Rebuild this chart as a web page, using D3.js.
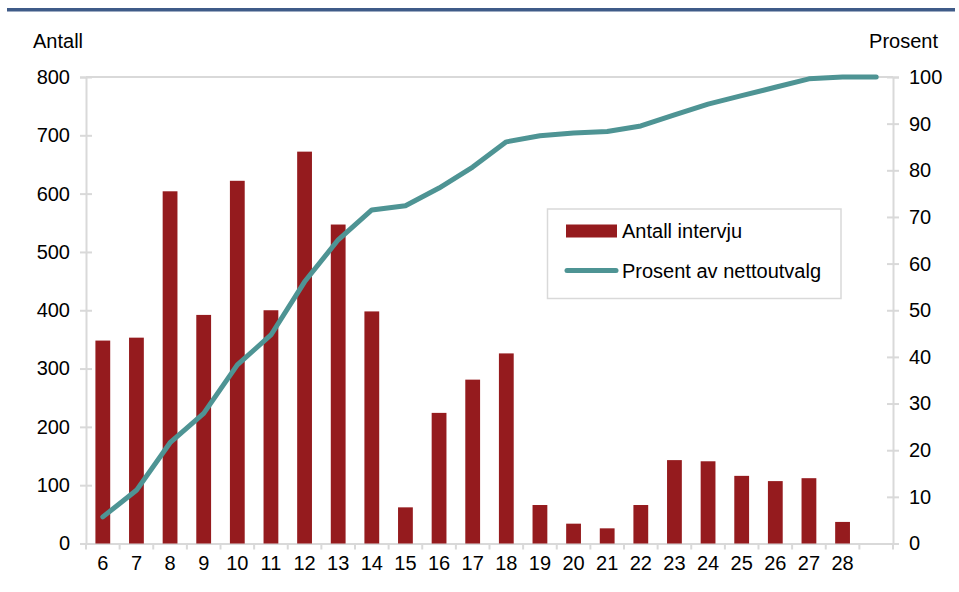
<!DOCTYPE html>
<html>
<head>
<meta charset="utf-8">
<script src="https://cdn.jsdelivr.net/npm/d3@7"></script>
<style>
  body { margin: 0; background: #fff; }
  svg { display: block; font-family: "Liberation Sans", Arial, sans-serif; }
</style>
</head>
<body>
<script>
// categories on the x axis (the chart has one extra empty slot at the end)
var categories = ["6","7","8","9","10","11","12","13","14","15","16","17","18","19","20","21","22","23","24","25","26","27","28"];
var slots = categories.concat([""]);

// Antall intervju (bars, left axis)
var antall = [348, 353, 604, 392, 622, 400, 672, 547, 398, 62, 224, 281, 326, 66, 34, 26, 66, 143, 141, 116, 107, 112, 37];

// Prosent av nettoutvalg (line, right axis) - one point per slot
var prosent = [5.7, 11.4, 21.6, 27.9, 38.3, 44.7, 56.1, 65.1, 71.5, 72.4, 76.2, 80.7, 86.1, 87.4, 88.0, 88.3, 89.5, 91.9, 94.2, 96.0, 97.8, 99.6, 100, 100];

var leftTicks = [0, 100, 200, 300, 400, 500, 600, 700, 800];
var rightTicks = [0, 10, 20, 30, 40, 50, 60, 70, 80, 90, 100];

var width = 959, height = 592;
var plotLeft = 86, plotRight = 893, plotTop = 77, plotBottom = 543.5;
var fontSize = 20;
var axisColour = "#d9d9d9";
var barColour = "#951b1e";
var lineColour = "#4e9494";

var svg = d3.select("body").append("svg")
            .attr("width", width)
            .attr("height", height);

// blue rule at the top (title above is cut off)
svg.append("rect")
   .attr("x", 7).attr("y", 8)
   .attr("width", 948).attr("height", 3.5)
   .attr("fill", "#3f5b88");

var x = d3.scaleBand()
          .domain(slots)
          .range([plotLeft, plotRight])
          .paddingInner(0.56)
          .paddingOuter(0.28);

var yLeft = d3.scaleLinear().domain([0, 800]).range([plotBottom, plotTop]);
var yRight = d3.scaleLinear().domain([0, 100]).range([plotBottom, plotTop]);

var offset = (x.step() - x.bandwidth()) / 2;

// plot frame top
svg.append("line")
   .attr("x1", plotLeft).attr("x2", plotRight)
   .attr("y1", plotTop).attr("y2", plotTop)
   .attr("stroke", axisColour).attr("stroke-width", 2);

// left axis
var gLeft = svg.append("g")
               .attr("transform", "translate(" + plotLeft + ",0)")
               .call(d3.axisLeft(yLeft).tickValues(leftTicks).tickSize(6).tickPadding(10));
gLeft.selectAll(".tick line").attr("x1", -6).attr("x2", 6);

// right axis
var gRight = svg.append("g")
                .attr("transform", "translate(" + plotRight + ",0)")
                .call(d3.axisRight(yRight).tickValues(rightTicks).tickSize(6).tickPadding(10));
gRight.selectAll(".tick line").attr("x1", -6).attr("x2", 6);

// bottom axis: labels at slot centres, ticks at slot boundaries
var gBottom = svg.append("g")
                 .attr("transform", "translate(0," + plotBottom + ")")
                 .call(d3.axisBottom(x).tickSize(0).tickPadding(12));

gBottom.selectAll(".boundary")
       .data(slots.concat(["end"]))
       .enter().append("line")
       .attr("class", "boundary")
       .attr("x1", function(d, i) { return i < slots.length ? x(d) - offset : plotRight; })
       .attr("x2", function(d, i) { return i < slots.length ? x(d) - offset : plotRight; })
       .attr("y1", 0).attr("y2", 6)
       .attr("stroke", axisColour).attr("stroke-width", 2);

[gLeft, gRight, gBottom].forEach(function(g) {
  g.select(".domain").attr("stroke", axisColour).attr("stroke-width", 2);
  g.selectAll(".tick line").attr("stroke", axisColour).attr("stroke-width", 2);
  g.selectAll("text").attr("font-size", fontSize).attr("fill", "#000")
   .attr("font-family", "Liberation Sans, Arial, sans-serif");
});

// bars
svg.selectAll(".bar")
   .data(antall)
   .enter().append("rect")
   .attr("class", "bar")
   .attr("x", function(d, i) { return x(categories[i]); })
   .attr("y", function(d) { return yLeft(d); })
   .attr("width", x.bandwidth())
   .attr("height", function(d) { return plotBottom - yLeft(d); })
   .attr("fill", barColour);

// line
var lineFunction = d3.line()
                     .x(function(d, i) { return x(slots[i]) + x.bandwidth() / 2; })
                     .y(function(d) { return yRight(d); });

svg.append("path")
   .attr("d", lineFunction(prosent))
   .attr("stroke", lineColour)
   .attr("stroke-width", 5)
   .attr("stroke-linejoin", "round")
   .attr("stroke-linecap", "round")
   .attr("fill", "none");

// axis titles
svg.append("text").attr("x", 33).attr("y", 48)
   .attr("font-size", fontSize).text("Antall");
svg.append("text").attr("x", 938).attr("y", 48)
   .attr("font-size", fontSize).attr("text-anchor", "end").text("Prosent");

// legend
var legend = svg.append("g");
legend.append("rect")
      .attr("x", 547.5).attr("y", 209)
      .attr("width", 293.5).attr("height", 89.5)
      .attr("fill", "#fff")
      .attr("stroke", axisColour).attr("stroke-width", 1.5);
legend.append("rect")
      .attr("x", 566).attr("y", 224.5)
      .attr("width", 51).attr("height", 13)
      .attr("fill", barColour);
legend.append("line")
      .attr("x1", 567).attr("x2", 616)
      .attr("y1", 270.5).attr("y2", 270.5)
      .attr("stroke", lineColour).attr("stroke-width", 5)
      .attr("stroke-linecap", "round");
legend.append("text").attr("x", 622).attr("y", 238)
      .attr("font-size", fontSize).text("Antall intervju");
legend.append("text").attr("x", 622).attr("y", 278)
      .attr("font-size", fontSize).text("Prosent av nettoutvalg");
</script>
</body>
</html>
